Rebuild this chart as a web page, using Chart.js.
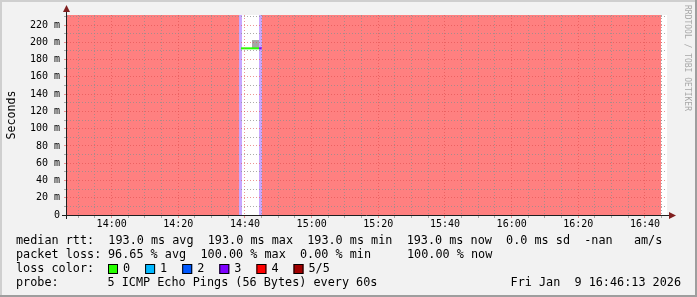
<!DOCTYPE html>
<html>
<head>
<meta charset="utf-8">
<script src="https://cdn.jsdelivr.net/npm/chart.js@4/dist/chart.umd.min.js"></script>
<style>
  html, body { margin: 0; padding: 0; background: #f2f2f2; }
  #wrap { width: 697px; height: 297px; position: relative; }
</style>
</head>
<body>
<div id="wrap"><canvas id="chart" width="697" height="297"></canvas></div>
<script>
// time in minutes after midnight, values in milliseconds
const timeStart = 826.6;
const timeEnd = 1006.6;
const yMax = 231.6;

// loss background bands: [from, to] and loss colour per band
const bandFrom = [826.6, 878.2, 879.1, 884.2, 885.1];
const bandTo = [878.2, 879.1, 884.2, 885.1, 1004.8];
const bandColor = ['#ff8080', '#c7a7ff', '#ffffff', '#c7a7ff', '#ff8080'];

// median rtt
const medianTimes = [878.8, 884.2, 885.1];
const medianValues = [193, 193, 193];
const medianLoss = [0, 3]; // loss index per segment

// smoke (ping spread) above the median
const smokeTimes = [882.1, 883.3, 884.2];
const smokeValues = [200, 202.6, 202.6];
const smokeBase = 193;

const xTicks = [];
for (let t = 830; t <= 1005; t += 5) xTicks.push(t);
const yTicks = [0, 10, 20, 30, 40, 50, 60, 70, 80, 90, 100, 110, 120, 130, 140, 150, 160, 170, 180, 190, 200, 210, 220, 230];

const lossLabels = ['0', '1', '2', '3', '4', '5/5'];
const lossColors = ['#26ff00', '#00b8ff', '#0059ff', '#7e00ff', '#ff0000', '#a00000'];

const medianStats = ['193.0 ms avg', '193.0 ms max', '193.0 ms min', '193.0 ms now', '0.0 ms sd', '-nan', ' am/s'];
const lossStats = ['96.65 % avg', '100.00 % max', '0.00 % min', '100.00 % now'];
const probeText = '5 ICMP Echo Pings (56 Bytes) every 60s';
const stampText = 'Fri Jan  9 16:46:13 2026';

const MONO = "'DejaVu Sans Mono', monospace";
const GRID = 'rgba(143,143,143,0.75)';
const MGRID = 'rgba(222,79,79,0.6)';
const ARROW = '#801f1f';
const AXIS = '#1f1f1f';

const fmtTime = (v) => {
  const h = Math.floor(v / 60), m = v % 60;
  return String(h).padStart(2, '0') + ':' + String(m).padStart(2, '0');
};

const bandSets = bandFrom.map((f, i) => ({
  data: [{ x: f, y: yMax }, { x: bandTo[i], y: yMax }],
  fill: 'origin',
  backgroundColor: bandColor[i],
  borderWidth: 0,
  pointRadius: 0,
  order: 3
}));

const smokeSet = {
  data: smokeTimes.map((t, i) => ({ x: t, y: smokeValues[i] })),
  stepped: 'after',
  fill: { value: smokeBase },
  backgroundColor: '#a6a6a6',
  borderWidth: 0,
  pointRadius: 0,
  order: 2
};

const medianSet = {
  data: medianTimes.map((t, i) => ({ x: t, y: medianValues[i] })),
  borderWidth: 2,
  borderColor: lossColors[0],
  segment: { borderColor: (c) => lossColors[medianLoss[c.p0DataIndex]] },
  pointRadius: 0,
  fill: false,
  order: 1
};

// frame, canvas background, arrows, legend text
const rrdPlugin = {
  id: 'rrd',
  beforeDraw(chart) {
    const { ctx, chartArea: a } = chart;
    const W = chart.width, H = chart.height;
    ctx.save();
    ctx.fillStyle = '#f2f2f2';
    ctx.fillRect(0, 0, W, H);
    ctx.fillStyle = '#cfcfcf';
    ctx.fillRect(0, 0, W, 2);
    ctx.fillRect(0, 0, 2, H);
    ctx.fillStyle = '#9e9e9e';
    ctx.fillRect(0, H - 2, W, 2);
    ctx.fillRect(W - 2, 0, 2, H);
    ctx.fillStyle = '#ffffff';
    ctx.fillRect(a.left, a.top, a.right - a.left, a.bottom - a.top);
    ctx.restore();
  },
  afterDraw(chart) {
    const { ctx, chartArea: a } = chart;
    ctx.save();
    // axes
    ctx.strokeStyle = AXIS;
    ctx.lineWidth = 1;
    ctx.beginPath();
    ctx.moveTo(a.left - 5, a.bottom + 0.5);
    ctx.lineTo(a.right + 4, a.bottom + 0.5);
    ctx.moveTo(a.left - 0.5, a.bottom + 4);
    ctx.lineTo(a.left - 0.5, a.top - 4);
    ctx.stroke();
    ctx.fillStyle = ARROW;
    ctx.beginPath();
    ctx.moveTo(a.right + 2, a.bottom - 3);
    ctx.lineTo(a.right + 9, a.bottom + 0.5);
    ctx.lineTo(a.right + 2, a.bottom + 4);
    ctx.closePath();
    ctx.fill();
    ctx.beginPath();
    ctx.moveTo(a.left - 4, a.top - 3);
    ctx.lineTo(a.left - 0.5, a.top - 10);
    ctx.lineTo(a.left + 3, a.top - 3);
    ctx.closePath();
    ctx.fill();

    // watermark
    ctx.save();
    ctx.translate(684, 5);
    ctx.rotate(Math.PI / 2);
    ctx.font = '8px ' + MONO;
    ctx.fillStyle = '#a8a8a8';
    ctx.textBaseline = 'middle';
    ctx.fillText('RRDTOOL / TOBI OETIKER', 0, -3);
    ctx.restore();

    // legend
    ctx.font = '11.8px ' + MONO;
    ctx.fillStyle = '#000';
    ctx.textBaseline = 'middle';
    const row = [241, 255, 269, 283];
    ctx.fillText('median rtt:  ' + medianStats.join('  '), 16, row[0]);
    ctx.fillText('packet loss:', 16, row[1]);
    const c2 = [108, 200.5, 300, 407];
    lossStats.forEach((s, i) => ctx.fillText(s, c2[i], row[1]));
    ctx.fillText('loss color:', 16, row[2]);
    lossLabels.forEach((s, i) => {
      const x = 108 + i * 37.1;
      ctx.fillStyle = lossColors[i];
      ctx.fillRect(x, row[2] - 5, 10, 10);
      ctx.strokeStyle = '#000';
      ctx.strokeRect(x + 0.5, row[2] - 4.5, 9, 9);
      ctx.fillStyle = '#000';
      ctx.fillText(s, x + 15, row[2]);
    });
    ctx.fillText('probe:', 16, row[3]);
    ctx.fillText(probeText, 107.5, row[3]);
    ctx.textAlign = 'right';
    ctx.fillText(stampText, 681, row[3]);
    ctx.restore();
  }
};

new Chart(document.getElementById('chart'), {
  type: 'line',
  data: { datasets: [...bandSets, smokeSet, medianSet] },
  plugins: [rrdPlugin],
  options: {
    responsive: false,
    animation: false,
    events: [],
    layout: { padding: { top: 15, right: 30, left: 0, bottom: 0 } },
    plugins: { legend: { display: false }, tooltip: { enabled: false } },
    scales: {
      x: {
        type: 'linear',
        min: timeStart,
        max: timeEnd,
        afterBuildTicks: (axis) => { axis.ticks = xTicks.map(v => ({ value: v })); },
        afterFit: (axis) => { axis.height = 82; },
        grid: {
          z: 1,
          color: (c) => c.tick.value % 20 === 0 ? MGRID : GRID,
          tickColor: (c) => c.tick.value % 20 === 0 ? MGRID : GRID,
          tickLength: 3,
          lineWidth: 1
        },
        border: { display: false, dash: [1, 2] },
        ticks: {
          autoSkip: false,
          maxRotation: 0,
          padding: 0,
          color: '#000',
          font: { family: MONO, size: 10 },
          callback: (v) => v % 20 === 0 ? fmtTime(v) : ''
        }
      },
      y: {
        min: 0,
        max: yMax,
        afterBuildTicks: (axis) => { axis.ticks = yTicks.map(v => ({ value: v })); },
        afterFit: (axis) => { axis.width = 67; },
        grid: {
          z: 1,
          color: (c) => c.tick.value % 20 === 0 ? MGRID : GRID,
          tickColor: (c) => c.tick.value % 20 === 0 ? MGRID : GRID,
          tickLength: 3,
          lineWidth: 1
        },
        border: { display: false, dash: [1, 2] },
        ticks: {
          autoSkip: false,
          padding: 4,
          color: '#000',
          font: { family: MONO, size: 10 },
          callback: (v) => v % 20 === 0 ? (v === 0 ? '0' : v + ' m') : ''
        },
        title: {
          display: true,
          text: 'Seconds',
          color: '#000',
          font: { family: MONO, size: 11.6 },
          padding: { top: 5, bottom: 0 }
        }
      }
    }
  }
});
</script>
</body>
</html>
